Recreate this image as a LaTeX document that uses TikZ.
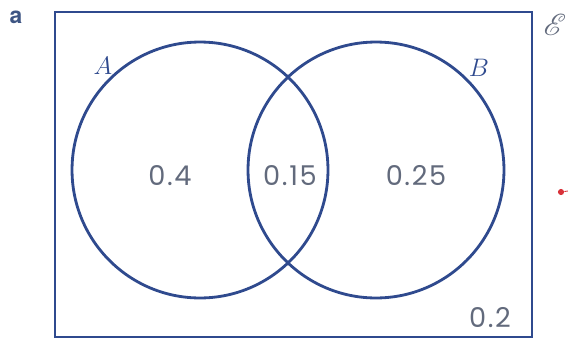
\documentclass[tikz,border=0pt]{standalone}
\usepackage{fontspec}
\usepackage{mathrsfs}
\usepackage{xcolor}
\usepackage{tikz}
\usetikzlibrary{positioning,calc}

\newfontfamily\numfont[LetterSpace=6]{Poppins}
\newfontfamily\partfont{TeX Gyre Heros}

\definecolor{vennblue}{HTML}{2F4A8E}
\definecolor{probgray}{HTML}{626A7C}
\definecolor{partblue}{HTML}{3E5583}
\definecolor{markred}{HTML}{D8323A}

\begin{document}
\begin{tikzpicture}[
    x=0.02cm, y=-0.02cm,
    every node/.style={inner sep=0pt},
    setline/.style={
        draw=vennblue,
        line width=1.6pt
    },
    frame/.style={
        setline,
        rectangle,
        minimum width=9.54cm,
        minimum height=6.5cm
    },
    setcircle/.style={
        setline,
        circle,
        minimum size=5.12cm
    },
    prob/.style={
        text=probgray,
        font=\numfont\fontsize{15.5}{15.5}\selectfont
    },
    setname/.style={
        text=vennblue,
        font=\fontsize{14}{14}\selectfont
    }
]
\useasboundingbox (0,0) rectangle (568,345);

% Frame and the two sets
\node[frame]     (univ) at (293.5,174.5) {};
\node[setcircle] (setA) at (200,170)     {};
\node[setcircle] (setB) at (376,170)     {};

% Labels
\node[text=partblue, font=\partfont\bfseries\fontsize{13}{13}\selectfont] (part) at (16,17) {a};
\node[setname] (labA)  at (103,66) {$A$};
\node[setname] (labB)  at (479,68) {$B$};
\node[text=probgray, font=\fontsize{19}{19}\selectfont] (labU) at (555,25) {$\mathscr{E}$};

% Probabilities
\node[prob] (pA)   at (170,176) {0.4};
\node[prob] (pAB)  at (290,176) {0.15};
\node[prob] (pB)   at (416,176) {0.25};
\node[prob] (pOut) at (490,318) {0.2};

% Stray mark on the right
\coordinate (markend) at (568,191);
\node[circle, fill=markred, minimum size=3.5pt] (mark) at (561,192) {};
\draw[markred, line width=0.5pt] (mark) -- (markend);

\end{tikzpicture}
\end{document}
